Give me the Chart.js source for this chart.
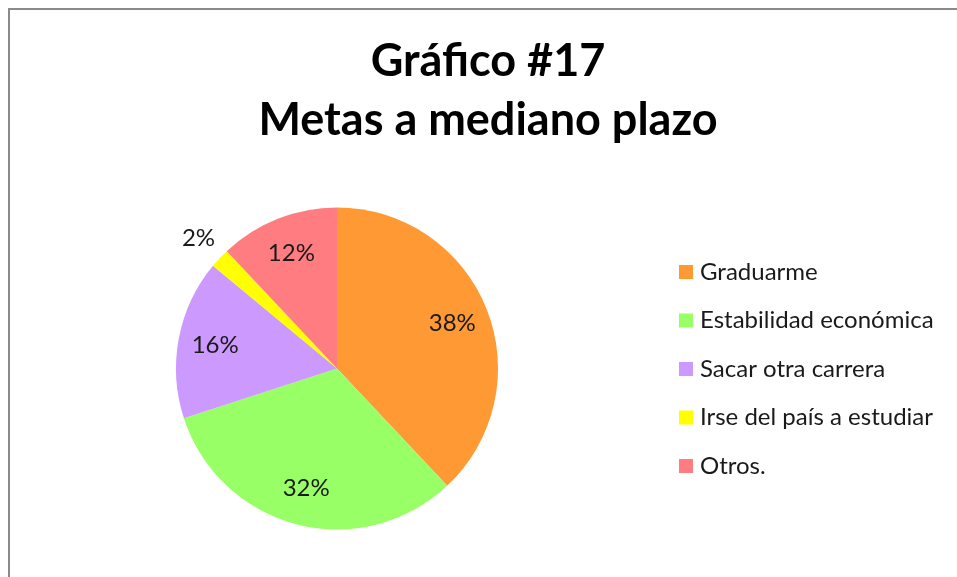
<!DOCTYPE html>
<html>
<head>
<meta charset="utf-8">
<script src="https://cdn.jsdelivr.net/npm/chart.js@4"></script>
<style>
  html, body { margin: 0; padding: 0; background: #fff; overflow: hidden; }
  #frame { position: absolute; left: 8px; top: 8px; width: 1200px; height: 800px; border: 2px solid #8a8a8a; }
  #pie { position: absolute; left: 0; top: 0; }
</style>
</head>
<body>
<div id="frame"></div>
<canvas id="pie" width="957" height="577"></canvas>
<script>
const titleLines = ['Gráfico #17', 'Metas a mediano plazo'];
const labels = ['Graduarme', 'Estabilidad económica', 'Sacar otra carrera', 'Irse del país a estudiar', 'Otros.'];
const values = [38, 32, 16, 2, 12];
const colors = ['#FF9933', '#99FF66', '#CC99FF', '#FFFF00', '#FF7C80'];

const FONT = 'Lato, "Open Sans", sans-serif';

// title, slice labels and legend, drawn by hand so they sit where the original has them
const decor = {
  id: 'decor',
  afterDatasetsDraw(chart) {
    const ctx = chart.ctx;
    const meta = chart.getDatasetMeta(0);
    const total = values.reduce((s, v) => s + v, 0);
    ctx.save();
    ctx.fillStyle = '#1a1a1a';
    ctx.font = '24px ' + FONT;
    ctx.textAlign = 'center';
    ctx.textBaseline = 'middle';
    meta.data.forEach((arc, i) => {
      const pct = values[i] / total;
      const mid = (arc.startAngle + arc.endAngle) / 2;
      const r = pct < 0.05 ? arc.outerRadius * 1.18 : arc.outerRadius * 0.77;
      ctx.fillText(Math.round(pct * 100) + '%', arc.x + Math.cos(mid) * r, arc.y + Math.sin(mid) * r);
    });

    // title
    ctx.font = 'bold 45px ' + FONT;
    ctx.textBaseline = 'alphabetic';
    ctx.fillStyle = '#000';
    titleLines.forEach((t, i) => ctx.fillText(t, 488, 76 + i * 59));

    // legend
    ctx.textAlign = 'left';
    ctx.textBaseline = 'middle';
    ctx.font = '24px ' + FONT;
    labels.forEach((l, i) => {
      const y = 272 + i * 48.5;
      ctx.fillStyle = colors[i];
      ctx.fillRect(679, y - 7, 14, 14);
      ctx.fillStyle = '#1a1a1a';
      ctx.fillText(l, 700, y);
    });
    ctx.restore();
  }
};

new Chart(document.getElementById('pie'), {
  type: 'pie',
  data: { labels, datasets: [{ data: values, backgroundColor: colors, borderWidth: 0, hoverOffset: 0 }] },
  options: {
    responsive: false,
    animation: false,
    layout: { padding: { left: 176, top: 207, right: 459, bottom: 47 } },
    plugins: { legend: { display: false }, title: { display: false }, tooltip: { enabled: false } }
  },
  plugins: [decor]
});
</script>
</body>
</html>
